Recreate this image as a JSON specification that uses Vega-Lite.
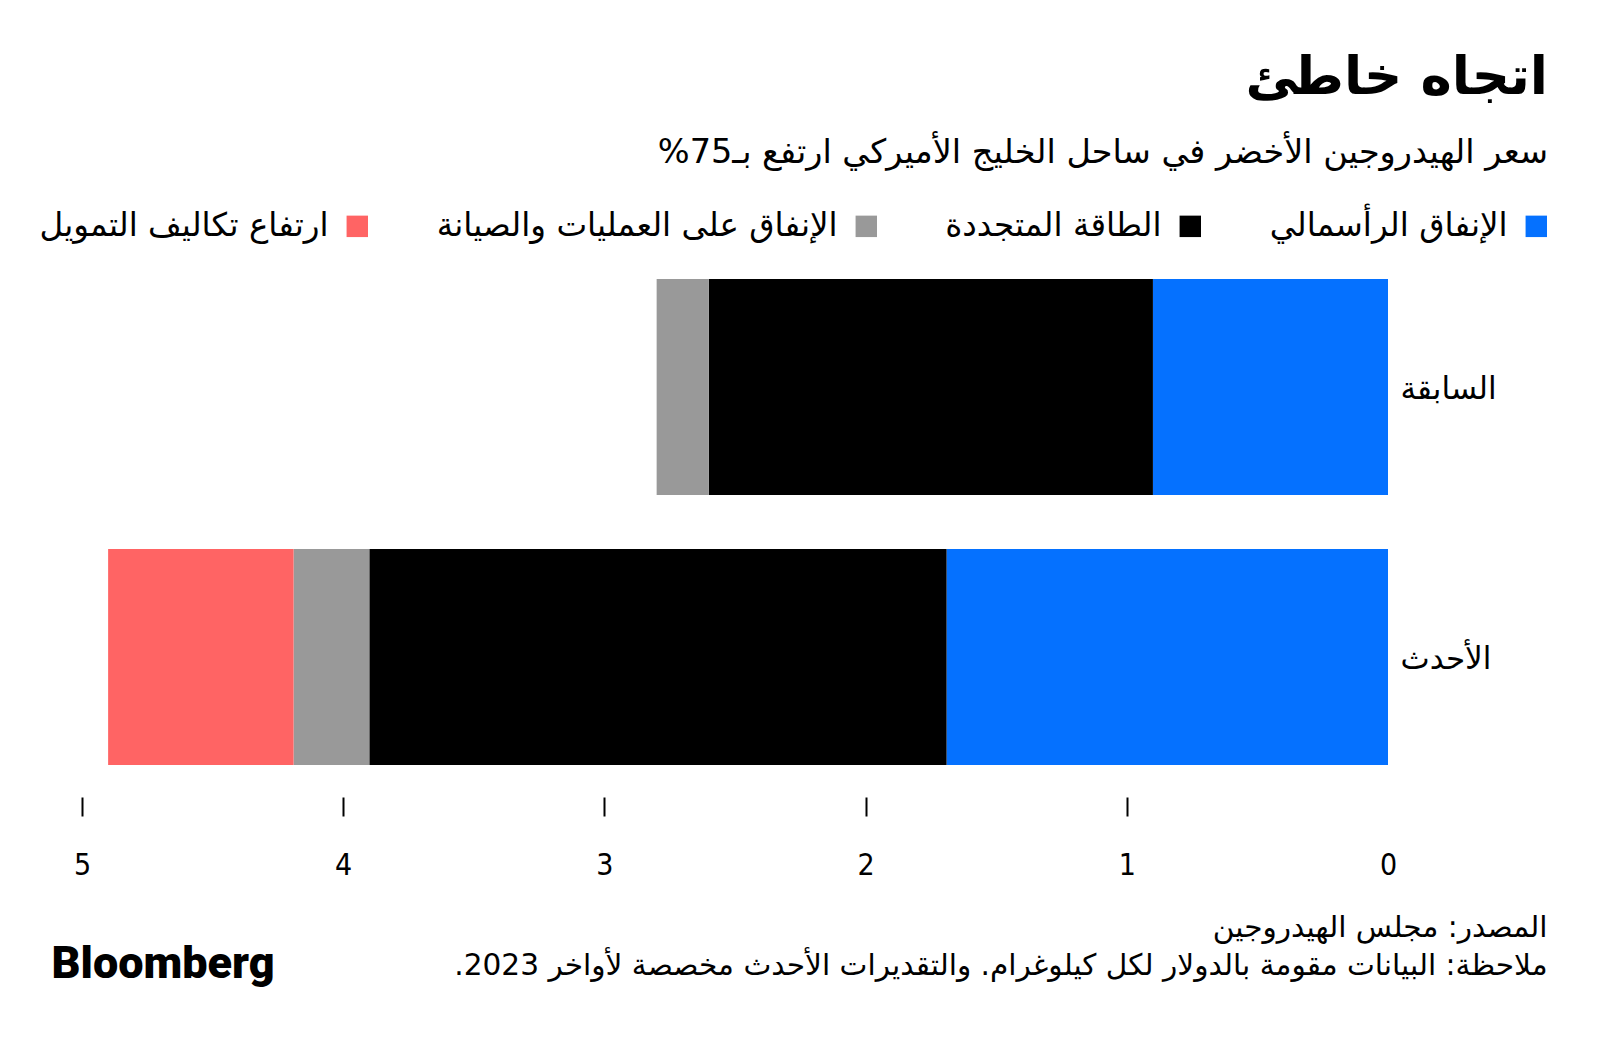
{
  "$schema": "https://vega.github.io/schema/vega-lite/v6.json",
  "width": 1306,
  "height": 540,
  "autosize": {"type": "none"},
  "padding": {"left": 82, "top": 252, "right": 212, "bottom": 250},
  "background": "white",
  "config": {"view": {"stroke": null}, "font": "DejaVu Sans"},
  "title": {
    "text": "اتجاه خاطئ",
    "subtitle": "سعر الهيدروجين الأخضر في ساحل الخليج الأميركي ارتفع بـ75%‏",
    "anchor": "end",
    "frame": "group",
    "dx": 160,
    "offset": 41,
    "font": "DejaVu Sans",
    "fontSize": 53,
    "fontWeight": "bold",
    "color": "black",
    "subtitleFont": "DejaVu Sans",
    "subtitleFontSize": 33.5,
    "subtitleColor": "black",
    "subtitlePadding": 32
  },
  "data": {
    "values": [
      {"phase": "السابقة", "component": "الإنفاق الرأسمالي", "value": 0.9, "rank": 1},
      {"phase": "السابقة", "component": "الطاقة المتجددة", "value": 1.7, "rank": 2},
      {"phase": "السابقة", "component": "الإنفاق على العمليات والصيانة", "value": 0.2, "rank": 3},
      {"phase": "الأحدث", "component": "الإنفاق الرأسمالي", "value": 1.69, "rank": 1},
      {"phase": "الأحدث", "component": "الطاقة المتجددة", "value": 2.21, "rank": 2},
      {"phase": "الأحدث", "component": "الإنفاق على العمليات والصيانة", "value": 0.29, "rank": 3},
      {"phase": "الأحدث", "component": "ارتفاع تكاليف التمويل", "value": 0.71, "rank": 4}
    ]
  },
  "mark": {"type": "bar", "strokeWidth": 0},
  "encoding": {
    "y": {
      "field": "phase",
      "type": "nominal",
      "sort": ["السابقة", "الأحدث"],
      "scale": {"paddingInner": 0.2, "paddingOuter": 0.1},
      "axis": {
        "orient": "right",
        "ticks": false,
        "domain": false,
        "labelFont": "DejaVu Sans",
        "labelFontSize": 31,
        "labelPadding": 12,
        "labelAlign": "left",
        "labelOffset": 3,
        "labelColor": "black",
        "title": "Bloomberg",
        "titleAngle": 0,
        "titleX": -1337,
        "titleY": 711,
        "titleAlign": "left",
        "titleBaseline": "middle",
        "titleFont": "Roboto",
        "titleFontSize": 45,
        "titleFontWeight": 900,
        "titleColor": "black"
      }
    },
    "x": {
      "field": "value",
      "type": "quantitative",
      "stack": "zero",
      "scale": {"domain": [0, 5], "reverse": true, "nice": false},
      "axis": {
        "values": [0, 1, 2, 3, 4, 5],
        "grid": false,
        "domain": false,
        "offset": 5,
        "tickSize": 19,
        "tickWidth": 2,
        "tickColor": {"condition": {"test": "datum.value === 0", "value": "transparent"}, "value": "black"},
        "labelFlush": false,
        "labelPadding": 34,
        "labelFont": "DejaVu Sans Condensed",
        "labelFontSize": 30,
        "labelColor": "black",
        "title": ["المصدر: مجلس الهيدروجين", "ملاحظة: البيانات مقومة بالدولار لكل كيلوغرام. والتقديرات الأحدث مخصصة لأواخر 2023.‏"],
        "titleX": 1465,
        "titleY": 116,
        "titleAlign": "right",
        "titleAnchor": null,
        "titleBaseline": "top",
        "titleFont": "DejaVu Sans",
        "titleFontSize": 29.6,
        "titleFontWeight": "normal",
        "titleLineHeight": 38,
        "titleColor": "black"
      }
    },
    "color": {
      "field": "component",
      "type": "nominal",
      "scale": {
        "domain": ["الإنفاق الرأسمالي", "الطاقة المتجددة", "الإنفاق على العمليات والصيانة", "ارتفاع تكاليف التمويل"],
        "range": ["#0571ff", "#000000", "#999999", "#ff6464"]
      },
      "legend": {
        "orient": "none",
        "direction": "horizontal",
        "legendX": 259,
        "legendY": -42,
        "title": null,
        "values": ["ارتفاع تكاليف التمويل", "الإنفاق على العمليات والصيانة", "الطاقة المتجددة", "الإنفاق الرأسمالي"],
        "symbolType": "square",
        "symbolSize": 460,
        "symbolStrokeWidth": 0,
        "symbolOpacity": 1,
        "labelFont": "DejaVu Sans",
        "labelFontSize": 32.6,
        "labelColor": "black",
        "labelAlign": "right",
        "labelOffset": -45,
        "labelLimit": 700,
        "columnPadding": 67
      }
    },
    "order": {"field": "rank", "type": "quantitative"}
  }
}
